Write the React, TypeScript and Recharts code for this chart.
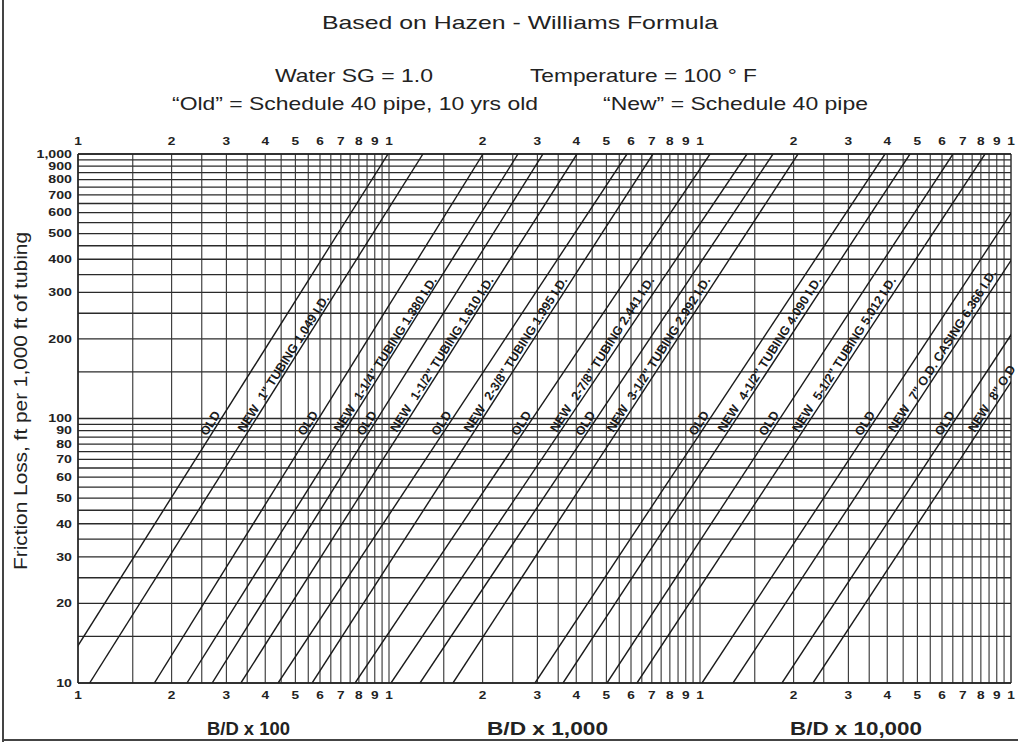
import React from "react";
import { LineChart, Line, XAxis, YAxis, ReferenceLine, ReferenceDot } from "recharts";

const FONT = '"Liberation Sans", Arial, sans-serif';

// tubing sizes and the text written along each pair of lines
const sizes = ['1"', '1-1/4"', '1-1/2"', '2-3/8"', '2-7/8"', '3-1/2"', '4-1/2"', '5-1/2"', '7"', '8"'];
const descriptions = [
  '1" TUBING 1.049 I.D.',
  '1-1/4" TUBING 1.380 I.D.',
  '1-1/2" TUBING 1.610 I.D.',
  '2-3/8" TUBING 1.995 I.D.',
  '2-7/8" TUBING 2.441 I.D.',
  '3-1/2" TUBING 2.992 I.D.',
  '4-1/2" TUBING 4.090 I.D.',
  '5-1/2" TUBING 5.012 I.D.',
  '7" O.D. CASING 6.366 I.D.',
  '8" O.D',
];

// B/D at a friction loss of 10 and of 1,000 ft per 1,000 ft
const oldAt10 = [84, 176, 270, 440, 778, 1258, 2948, 5023, 10150, 18350];
const oldAt1000 = [993, 2006, 3127, 5825, 10770, 17170, 39350, 65080, 133500, 241300];
const newAt10 = [109, 224, 334, 566, 1015, 1606, 3627, 6272, 12770, 23080];
const newAt1000 = [1286, 2599, 4022, 7060, 14160, 20660, 47340, 82490, 167900, 303600];

const xTicks = [
  100, 200, 300, 400, 500, 600, 700, 800, 900,
  1000, 2000, 3000, 4000, 5000, 6000, 7000, 8000, 9000,
  10000, 20000, 30000, 40000, 50000, 60000, 70000, 80000, 90000, 100000,
];
const xTickLabels = [
  "1", "2", "3", "4", "5", "6", "7", "8", "9",
  "1", "2", "3", "4", "5", "6", "7", "8", "9",
  "1", "2", "3", "4", "5", "6", "7", "8", "9", "1",
];
const yTicks = [10, 20, 30, 40, 50, 60, 70, 80, 90, 100, 200, 300, 400, 500, 600, 700, 800, 900, 1000];
const yTickLabels = ["10", "20", "30", "40", "50", "60", "70", "80", "90", "100", "200", "300", "400", "500", "600", "700", "800", "900", "1,000"];
// intermediate horizontal rulings
const yHalf = [15, 25, 35, 45, 55, 65, 75, 85, 95, 150, 250, 350, 450, 550, 650, 750, 850, 950];

const steps = [1, 1.5, 2, 2.5, 3, 3.5, 4, 4.5, 5, 5.5, 6, 6.5, 7, 7.5, 8, 8.5, 9, 9.5];
const xGrid: number[] = [];
[100, 1000, 10000].forEach((d) => steps.forEach((s) => xGrid.push(d * s)));
xGrid.push(100000);

const ANGLE = 57.5;

// position of a point on a straight log-log line at a given friction loss (for labels)
const qAt = (q10: number, q1000: number, f: number) =>
  q10 * Math.pow(q1000 / q10, (Math.log10(f) - 1) / 2);

const labelOf = (ticks: number[], labels: string[], v: number) => {
  const i = ticks.indexOf(v);
  return i >= 0 ? labels[i] : "";
};

const tickText = { fontSize: 10.5, fontWeight: 700, fill: "#222", fontFamily: FONT };

const XTickBottom = (p: any) => (
  <g transform={`translate(${p.x},${p.y}) scale(1.3,1)`}>
    <text textAnchor="middle" dy="0.75em" {...tickText}>
      {labelOf(xTicks, xTickLabels, p.payload.value)}
    </text>
  </g>
);
const XTickTop = (p: any) => (
  <g transform={`translate(${p.x},${p.y}) scale(1.3,1)`}>
    <text textAnchor="middle" dy="-0.1em" {...tickText}>
      {labelOf(xTicks, xTickLabels, p.payload.value)}
    </text>
  </g>
);
const YTick = (p: any) => (
  <g transform={`translate(${p.x + 2},${p.y}) scale(1.35,1)`}>
    <text textAnchor="end" dy="0.36em" {...tickText}>
      {labelOf(yTicks, yTickLabels, p.payload.value)}
    </text>
  </g>
);

const alongLine = (text: string, anchor: "middle" | "start") => (p: any) => (
  <text
    x={p.cx}
    y={p.cy}
    dy={-2.5}
    transform={`rotate(${-ANGLE} ${p.cx} ${p.cy})`}
    textAnchor={anchor}
    fontSize={12.5}
    fontWeight={700}
    fontFamily={FONT}
    fill="#1a1a1a"
  >
    {text}
  </text>
);

export default function App() {
  return (
    <div style={{ position: "absolute", left: 0, top: 0, width: 1018, height: 742, background: "#fff", overflow: "hidden" }}>
      <LineChart width={1018} height={742} margin={{ top: 130, right: 7, bottom: 35, left: 30 }}>
        <XAxis
          dataKey="q"
          type="number"
          scale="log"
          domain={[100, 100000]}
          allowDataOverflow
          ticks={xTicks}
          interval={0}
          tickLine={false}
          axisLine={{ stroke: "#222", strokeWidth: 1.5 }}
          tick={XTickBottom}
          height={24}
        />
        <XAxis
          xAxisId="top"
          orientation="top"
          dataKey="q"
          type="number"
          scale="log"
          domain={[100, 100000]}
          allowDataOverflow
          ticks={xTicks}
          interval={0}
          tickLine={false}
          axisLine={{ stroke: "#222", strokeWidth: 1.5 }}
          tick={XTickTop}
          height={24}
        />
        <YAxis
          dataKey="f"
          type="number"
          scale="log"
          domain={[10, 1000]}
          allowDataOverflow
          ticks={yTicks}
          interval={0}
          tickLine={false}
          axisLine={{ stroke: "#222", strokeWidth: 1.5 }}
          tick={YTick}
          width={48}
        />

        {yHalf.map((v) => (
          <ReferenceLine key={"hh" + v} y={v} stroke="#2a2a2a" strokeWidth={1.3} />
        ))}
        {yTicks.map((v) => (
          <ReferenceLine key={"h" + v} y={v} stroke="#2a2a2a" strokeWidth={1.3} />
        ))}
        {xGrid.map((v) => (
          <ReferenceLine key={"v" + v} x={v} stroke="#333" strokeWidth={v === 100000 ? 1.5 : 1.1} />
        ))}

        {sizes.map((s, i) => (
          <Line
            key={"old" + s}
            data={[
              { q: oldAt10[i], f: 10 },
              { q: oldAt1000[i], f: 1000 },
            ]}
            dataKey="f"
            stroke="#1a1a1a"
            strokeWidth={1.4}
            dot={false}
            activeDot={false}
            isAnimationActive={false}
          />
        ))}
        {sizes.map((s, i) => (
          <Line
            key={"new" + s}
            data={[
              { q: newAt10[i], f: 10 },
              { q: newAt1000[i], f: 1000 },
            ]}
            dataKey="f"
            stroke="#1a1a1a"
            strokeWidth={1.4}
            dot={false}
            activeDot={false}
            isAnimationActive={false}
          />
        ))}

        {sizes.map((s, i) => (
          <ReferenceDot
            key={"lo" + s}
            x={qAt(oldAt10[i], oldAt1000[i], 93)}
            y={93}
            r={0}
            ifOverflow="visible"
            shape={alongLine("OLD", "middle")}
          />
        ))}
        {sizes.map((s, i) => (
          <ReferenceDot
            key={"ln" + s}
            x={qAt(newAt10[i], newAt1000[i], 97)}
            y={97}
            r={0}
            ifOverflow="visible"
            shape={alongLine("NEW", "middle")}
          />
        ))}
        {sizes.map((s, i) => (
          <ReferenceDot
            key={"ld" + s}
            x={qAt(newAt10[i], newAt1000[i], 115)}
            y={115}
            r={0}
            ifOverflow="visible"
            shape={alongLine(descriptions[i], "start")}
          />
        ))}
      </LineChart>

      <svg
        width={1018}
        height={742}
        style={{ position: "absolute", left: 0, top: 0, pointerEvents: "none" }}
        fontFamily={FONT}
        fill="#222"
      >
        <line x1={3} y1={0} x2={3} y2={742} stroke="#444" strokeWidth={2} />
        <line x1={3} y1={740} x2={1018} y2={740} stroke="#444" strokeWidth={2} />
        <text x={322} y={29} fontSize={19} textLength={396} lengthAdjust="spacingAndGlyphs">
          Based on Hazen - Williams Formula
        </text>
        <text x={275} y={82} fontSize={19} textLength={158} lengthAdjust="spacingAndGlyphs">
          Water SG = 1.0
        </text>
        <text x={530} y={82} fontSize={19} textLength={227} lengthAdjust="spacingAndGlyphs">
          Temperature = 100 ° F
        </text>
        <text x={172} y={110} fontSize={19} textLength={366} lengthAdjust="spacingAndGlyphs">
          “Old” = Schedule 40 pipe, 10 yrs old
        </text>
        <text x={603} y={110} fontSize={19} textLength={265} lengthAdjust="spacingAndGlyphs">
          “New” = Schedule 40 pipe
        </text>
        <text
          x={27}
          y={401}
          fontSize={18}
          textAnchor="middle"
          transform="rotate(-90 27 401)"
          textLength={338}
          lengthAdjust="spacingAndGlyphs"
        >
          Friction Loss, ft per 1,000 ft of tubing
        </text>
        <text x={207} y={735} fontSize={18} fontWeight={700} textLength={83} lengthAdjust="spacingAndGlyphs">
          B/D x 100
        </text>
        <text x={487} y={735} fontSize={18} fontWeight={700} textLength={121} lengthAdjust="spacingAndGlyphs">
          B/D x 1,000
        </text>
        <text x={790} y={735} fontSize={18} fontWeight={700} textLength={132} lengthAdjust="spacingAndGlyphs">
          B/D x 10,000
        </text>
      </svg>
    </div>
  );
}
